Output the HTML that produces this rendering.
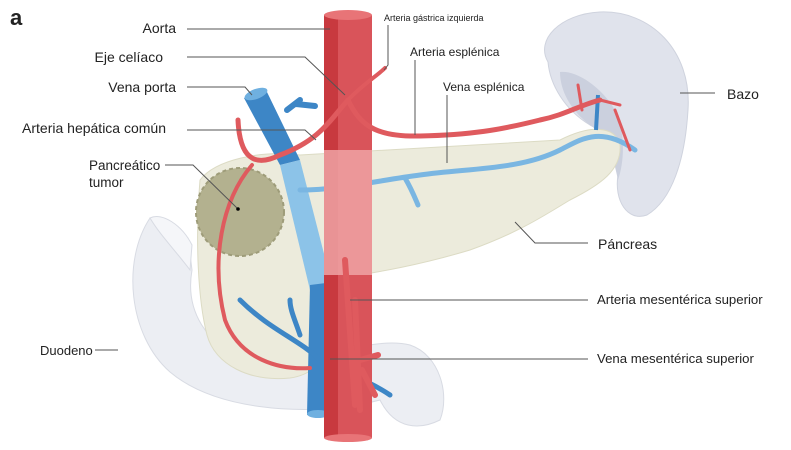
<!DOCTYPE html>
<html><head><meta charset="utf-8"><style>
html,body{margin:0;padding:0;background:#fff;}
svg{display:block;}
text{font-family:"Liberation Sans",sans-serif;fill:#222;}
</style></head><body>
<svg width="791" height="450" viewBox="0 0 791 450" xmlns="http://www.w3.org/2000/svg">
<path d="M548,62 C535,40 560,14 600,12 C650,10 692,50 688,110 C685,160 672,200 647,215 C627,222 614,200 618,175 C622,150 610,135 590,125 C565,110 550,85 548,62 Z" fill="#e0e3ec" stroke="#cfd3de" stroke-width="1"/>
<path d="M560,72 C575,70 600,85 615,110 C625,130 625,160 618,180 C612,150 605,135 590,125 C570,110 560,90 560,72 Z" fill="#cbd0de"/>
<path d="M150,218 C122,260 128,335 170,372 C215,410 300,415 360,405 L380,400 C395,430 420,430 440,420 C450,395 440,355 410,345 C390,340 360,345 330,355 L250,362 C205,345 185,310 192,270 L188,238 Z" fill="#eceef3" stroke="#d8dbe3" stroke-width="1"/>
<path d="M150,218 C162,212 182,225 192,245 L190,270 C175,250 160,235 150,218Z" fill="#f5f6f9" stroke="#d8dbe3"/>
<path d="M200,180 C215,160 260,150 300,155 L560,140 C590,125 615,125 620,145 C622,170 600,185 570,200 C545,215 520,232 470,250 C420,265 380,272 340,278 C340,320 335,372 290,378 C250,382 215,365 207,335 C198,300 195,240 200,180 Z" fill="#ecebdc" stroke="#dcdbc4" stroke-width="1"/>
<circle cx="240" cy="212" r="44" fill="#b3b18f"/>
<circle cx="240" cy="212" r="44" fill="none" stroke="#9e9c79" stroke-width="2" stroke-dasharray="4 3"/>
<path d="M244,98 L266,90 L300,160 L280,165 Z" fill="#3d86c6"/>
<path d="M287,110 L300,100 M296,104 L315,106" stroke="#3d86c6" stroke-width="6" stroke-linecap="round"/>
<ellipse cx="256" cy="94" rx="12" ry="5" transform="rotate(-20 256 94)" fill="#6fb0e0"/>
<path d="M280,165 L300,160 L332,285 L310,290 Z" fill="#8cc3e8"/>
<path d="M310,285 L334,282 L328,415 L307,415 Z" fill="#3d86c6"/>
<ellipse cx="318" cy="414" rx="11" ry="4" fill="#6fb0e0"/>
<path d="M320,360 C300,340 270,330 240,300 M300,335 C295,320 290,310 290,300 M335,300 C345,310 350,320 355,330 M330,370 C355,375 375,385 390,395 M330,385 C345,395 360,405 365,415" stroke="#3d86c6" stroke-width="5" fill="none" stroke-linecap="round"/>
<path d="M300,190 C340,190 380,180 420,175 C470,168 520,170 560,150 C580,140 600,125 635,150" stroke="#7ab6e2" stroke-width="5" fill="none" stroke-linecap="round"/>
<path d="M405,178 C412,190 415,198 418,205" stroke="#7ab6e2" stroke-width="5" fill="none" stroke-linecap="round"/>
<path d="M598,95 L596,130" stroke="#3d86c6" stroke-width="4"/>
<rect x="324" y="15" width="48" height="423" fill="#d9545a"/>
<rect x="324" y="15" width="14" height="423" fill="#c8393f"/>
<rect x="324" y="150" width="48" height="125" fill="#eea3a5" opacity="0.85"/>
<ellipse cx="348" cy="15" rx="24" ry="5" fill="#e87477"/>
<ellipse cx="348" cy="438" rx="24" ry="4" fill="#e87477"/>
<g stroke="#df5a5e" fill="none" stroke-linecap="round">
<path d="M348,100 C330,120 320,140 280,155 C260,165 240,165 238,120" stroke-width="5"/>
<path d="M252,165 C222,200 210,260 225,320 C240,360 280,370 310,368" stroke-width="4"/>
<path d="M348,100 C362,85 378,75 385,68" stroke-width="4"/>
<path d="M348,100 C360,125 375,137 420,136 C470,135 500,130 540,120 C565,115 580,105 600,100" stroke-width="5"/>
<path d="M578,85 L582,110 M600,100 L620,105 M615,110 L630,150" stroke-width="3"/>
<path d="M345,260 L355,405 M355,300 L360,410 M360,360 L378,355 M362,370 L375,395" stroke-width="6"/>
</g>
<g stroke="#555" stroke-width="1" fill="none">
<path d="M187,29 L330,29"/>
<path d="M187,57 L305,57 L345,95"/>
<path d="M187,87 L245,87 L252,95"/>
<path d="M187,130 L305,130 L316,140"/>
<path d="M165,165 L193,165 L237,208"/>
<path d="M95,350 L118,350"/>
<path d="M680,93 L715,93"/>
<path d="M588,243 L535,243 L515,222"/>
<path d="M350,300 L588,300"/>
<path d="M330,359 L588,359"/>
<path d="M388,25 L388,65 L384,70"/>
<path d="M415,60 L415,135"/>
<path d="M447,95 L447,163"/>
</g>
<circle cx="238" cy="209" r="1.8" fill="#000"/>
<text x="10" y="25" font-size="22" font-weight="bold">a</text>
<g font-size="14" text-anchor="end">
<text x="176" y="33">Aorta</text>
<text x="163" y="62">Eje celíaco</text>
<text x="176" y="92">Vena porta</text>
<text x="166" y="133">Arteria hepática común</text>
</g>
<text x="89" y="170" font-size="13.5">Pancreático</text>
<text x="89" y="187" font-size="13.5">tumor</text>
<text x="40" y="355" font-size="13">Duodeno</text>
<text x="727" y="99" font-size="14">Bazo</text>
<text x="598" y="249" font-size="14">Páncreas</text>
<text x="597" y="304" font-size="13.2">Arteria mesentérica superior</text>
<text x="597" y="363" font-size="13.2">Vena mesentérica superior</text>
<text x="384" y="21" font-size="9">Arteria gástrica izquierda</text>
<text x="410" y="56" font-size="12">Arteria esplénica</text>
<text x="443" y="91" font-size="12">Vena esplénica</text>
</svg>
</body></html>
